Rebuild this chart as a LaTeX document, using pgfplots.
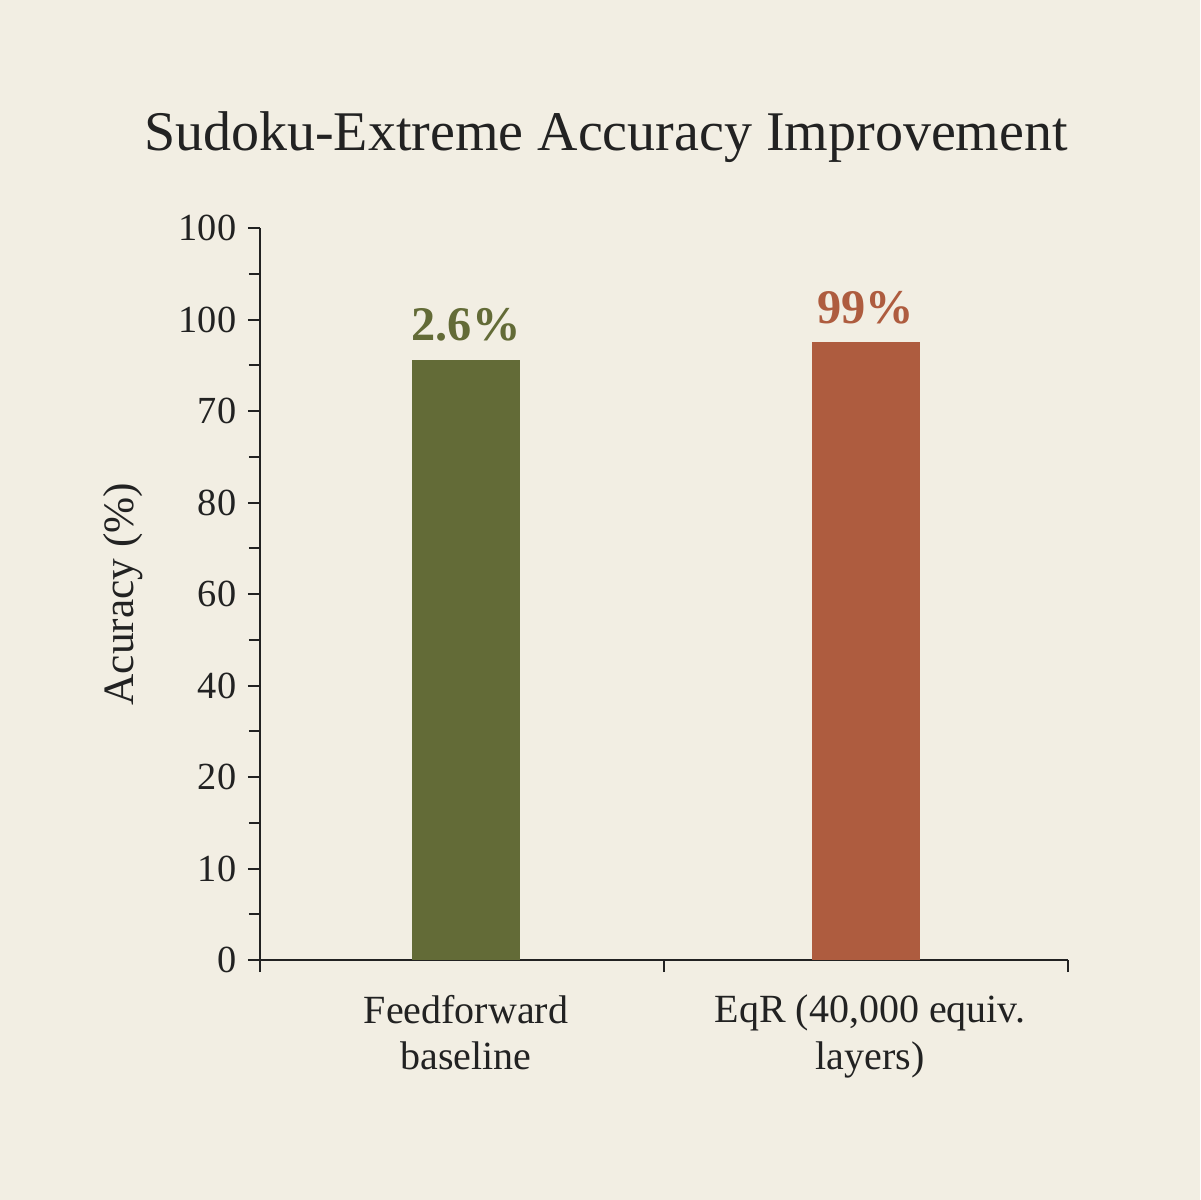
\documentclass[border=0pt]{standalone}
\usepackage{pgfplots}
\pgfplotsset{compat=1.18}
\usepackage{fontspec}
\setmainfont{Liberation Serif}
\definecolor{bg}{HTML}{F2EEE3}
\definecolor{barg}{HTML}{636B37}
\definecolor{barr}{HTML}{AE5C3F}
\definecolor{ink}{HTML}{222222}
\begin{document}
\begin{tikzpicture}
\fill[bg] (-78pt,-72pt) rectangle (282pt,288pt);
\useasboundingbox (-78pt,-72pt) rectangle (282pt,288pt);
\begin{axis}[
  at={(0,0)}, anchor=origin,
  scale only axis, width=242.4pt, height=219.6pt,
  xmin=0, xmax=2, ymin=0, ymax=8,
  axis x line=bottom, axis y line=left,
  axis line style={-, ink, line width=0.6pt},
  every tick/.style={ink, line width=0.6pt},
  tick align=outside,
  major tick length=3.6pt, minor tick length=3.3pt,
  ytick={0,1,2,3,4,5,6,7,8},
  yticklabels={0,10,20,40,60,80,70,100,100},
  minor y tick num=1,
  xtick={0,1,2},
  xticklabels={},
  extra x ticks={0.51,1.51},
  extra x tick labels={{Feedforward\\baseline}, {EqR (40{,}000 equiv.\\layers)}},
  extra x tick style={major tick length=0pt},
  x tick label style={align=center, font=\fontsize{12}{14}\selectfont, text=ink, yshift=-7pt},
  y tick label style={font=\fontsize{11.5}{13}\selectfont, text=ink},
  /pgf/number format/assume math mode=true,
  ylabel={Acuracy (\%)},
  ylabel style={font=\fontsize{13}{15}\selectfont, text=ink, yshift=4pt},
  title={Sudoku-Extreme Accuracy Improvement},
  title style={font=\fontsize{16.8}{19}\selectfont, text=ink, yshift=10pt, xshift=-17.4pt},
  ybar, bar width=32.4pt,
  nodes near coords style={font=\bfseries\fontsize{14.5}{17}\selectfont, yshift=2pt},
]
\addplot[fill=barg, draw=none, nodes near coords={2.6\%}, nodes near coords style={text=barg}, bar shift=0pt] coordinates {(0.51,6.56)};
\addplot[fill=barr, draw=none, nodes near coords={99\%}, nodes near coords style={text=barr}, bar shift=0pt] coordinates {(1.5,6.75)};
\end{axis}
\end{tikzpicture}
\end{document}
